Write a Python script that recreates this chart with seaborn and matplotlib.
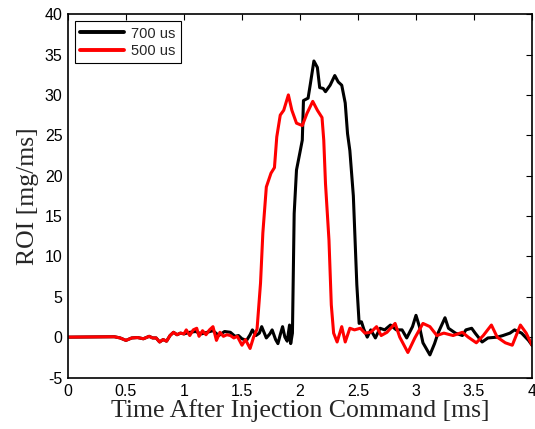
import matplotlib
matplotlib.use("Agg")
import matplotlib.pyplot as plt
import seaborn as sns
import pandas as pd

series_names = ["700 us", "500 us"]

t_700 = [0.0, 0.40, 0.45, 0.50, 0.55, 0.60, 0.65, 0.70, 0.73, 0.76, 0.79, 0.82, 0.85, 0.88,
         0.91, 0.94, 0.97, 1.00, 1.05, 1.10, 1.15, 1.20, 1.25, 1.30, 1.35, 1.40, 1.44, 1.47,
         1.50, 1.54, 1.57, 1.59, 1.62, 1.65, 1.67, 1.71, 1.74, 1.76, 1.79, 1.81, 1.83, 1.85,
         1.87, 1.89, 1.91, 1.92, 1.935, 1.95, 1.97, 2.00, 2.02, 2.03, 2.07, 2.09, 2.12, 2.15,
         2.17, 2.20, 2.22, 2.26, 2.30, 2.33, 2.36, 2.39, 2.41, 2.43, 2.46, 2.49, 2.51, 2.53,
         2.55, 2.58, 2.61, 2.65, 2.69, 2.73, 2.78, 2.83, 2.88, 2.92, 2.97, 3.00, 3.03, 3.06,
         3.12, 3.16, 3.19, 3.25, 3.28, 3.34, 3.40, 3.43, 3.48, 3.51, 3.57, 3.62, 3.70, 3.75,
         3.81, 3.85, 3.91, 3.97, 4.00]
roi_700 = [0.0, 0.05, -0.1, -0.4, -0.1, -0.05, -0.2, 0.1, -0.1, -0.1, -0.6, -0.3, -0.5, 0.2,
           0.6, 0.3, 0.5, 0.4, 0.6, 0.7, 0.4, 0.6, 0.8, 0.2, 0.7, 0.6, 0.1, 0.2,
           -0.2, -0.4, 0.3, 0.9, 0.2, 0.5, 1.3, -0.1, 0.4, 0.9, -0.3, -0.8, 0.3, 1.3,
           0.0, -0.5, 1.5, -0.8, 0.5, 15.3, 20.7, 22.9, 24.4, 29.3, 29.6, 31.4, 34.2, 33.4,
           30.9, 30.8, 30.4, 31.2, 32.4, 31.6, 31.2, 29.0, 25.2, 23.1, 17.5, 6.5, 1.7, 1.9,
           1.0, 0.0, 0.9, -0.1, 1.1, 0.9, 1.5, 0.9, 0.9, -0.1, 1.3, 2.7, 1.3, -0.7,
           -2.2, -0.8, 0.5, 2.4, 1.1, 0.5, 0.2, 0.9, 1.1, 0.5, -0.6, -0.1, 0.0, 0.2,
           0.5, 0.9, 0.5, -0.4, -1.0]

t_500 = [0.0, 0.40, 0.45, 0.50, 0.55, 0.60, 0.65, 0.70, 0.73, 0.76, 0.79, 0.82, 0.85, 0.88,
         0.91, 0.94, 0.97, 1.00, 1.02, 1.05, 1.08, 1.11, 1.13, 1.16, 1.19, 1.22, 1.25, 1.28,
         1.31, 1.34, 1.37, 1.40, 1.43, 1.46, 1.50, 1.53, 1.57, 1.60, 1.63, 1.66, 1.68, 1.71,
         1.75, 1.78, 1.80, 1.83, 1.86, 1.90, 1.93, 1.97, 2.02, 2.06, 2.11, 2.15, 2.19, 2.205,
         2.22, 2.25, 2.27, 2.29, 2.32, 2.36, 2.39, 2.43, 2.47, 2.52, 2.56, 2.61, 2.66, 2.70,
         2.75, 2.82, 2.86, 2.93, 2.99, 3.06, 3.12, 3.18, 3.24, 3.32, 3.40, 3.45, 3.52, 3.58,
         3.65, 3.70, 3.77, 3.83, 3.90, 3.95, 4.00]
roi_500 = [0.0, 0.05, -0.1, -0.4, -0.1, -0.05, -0.2, 0.1, -0.1, -0.1, -0.6, -0.3, -0.5, 0.2,
           0.6, 0.3, 0.5, 0.4, 0.9, 0.2, 0.9, 1.1, 0.1, 0.8, 0.3, 0.9, 1.3, -0.4,
           0.6, 0.1, 0.3, 0.2, -0.1, 0.1, -1.0, -0.3, -1.4, 0.0, 1.0, 6.7, 12.9, 18.6,
           20.3, 21.0, 24.8, 27.5, 28.1, 30.0, 28.1, 26.5, 26.2, 27.7, 29.2, 28.1, 27.2, 24.4,
           19.0, 12.0, 4.0, 0.5, -0.6, 1.3, -0.6, 1.1, 0.9, 1.1, 0.5, 0.6, 1.3, 0.2,
           0.6, 1.7, 0.0, -1.9, -0.1, 1.7, 1.3, 0.2, 0.5, 0.2, 0.6, 0.0, -0.7, 0.2,
           1.5, 0.0, -0.7, -1.0, 1.5, 0.5, -1.0]

x_ticks = [0, 0.5, 1, 1.5, 2, 2.5, 3, 3.5, 4]
x_tick_labels = ["0", "0.5", "1", "1.5", "2", "2.5", "3", "3.5", "4"]
y_ticks = [-5, 0, 5, 10, 15, 20, 25, 30, 35, 40]

df = pd.concat([
    pd.DataFrame({"t": t_700, "roi": roi_700, "case": series_names[0]}),
    pd.DataFrame({"t": t_500, "roi": roi_500, "case": series_names[1]}),
], ignore_index=True)

sns.set_style("white")
plt.rcParams["font.family"] = ["Liberation Sans", "DejaVu Sans"]
plt.rcParams["axes.unicode_minus"] = False

fig = plt.figure(figsize=(5.35, 4.29), dpi=100)
ax = fig.add_axes([0.127, 0.12, 0.8674, 0.847])

sns.lineplot(data=df, x="t", y="roi", hue="case", hue_order=series_names,
             palette={"700 us": "#000000", "500 us": "#ff0000"},
             estimator=None, sort=False, linewidth=2.2, ax=ax)

ax.set_xlim(0, 4)
ax.set_ylim(-5, 40)
ax.set_xticks(x_ticks)
ax.set_xticklabels(x_tick_labels)
ax.set_yticks(y_ticks)
ax.tick_params(direction="in", length=4, width=0.8, top=True, right=True,
               labelsize=11.5, colors="black")
ax.tick_params(axis="x", pad=5)
ax.tick_params(axis="y", pad=4)
for sp in ax.spines.values():
    sp.set_visible(True)
    sp.set_color("black")
    sp.set_linewidth(1.2)

ax.set_xlabel("Time After Injection Command [ms]", family=["Liberation Serif"],
              fontsize=18.5, labelpad=0)
ax.set_ylabel("ROI [mg/ms]", family=["Liberation Serif"], fontsize=18.5, labelpad=4)

leg = ax.legend(loc="upper left", fontsize=10.5, frameon=True, fancybox=False,
                edgecolor="black", framealpha=1, handlelength=3.0, borderpad=0.35,
                labelspacing=0.25, handletextpad=0.5, borderaxespad=0.5)
leg.get_frame().set_linewidth(0.8)
for line in leg.get_lines():
    line.set_linewidth(2.8)

fig.savefig("out.png", dpi=100)
